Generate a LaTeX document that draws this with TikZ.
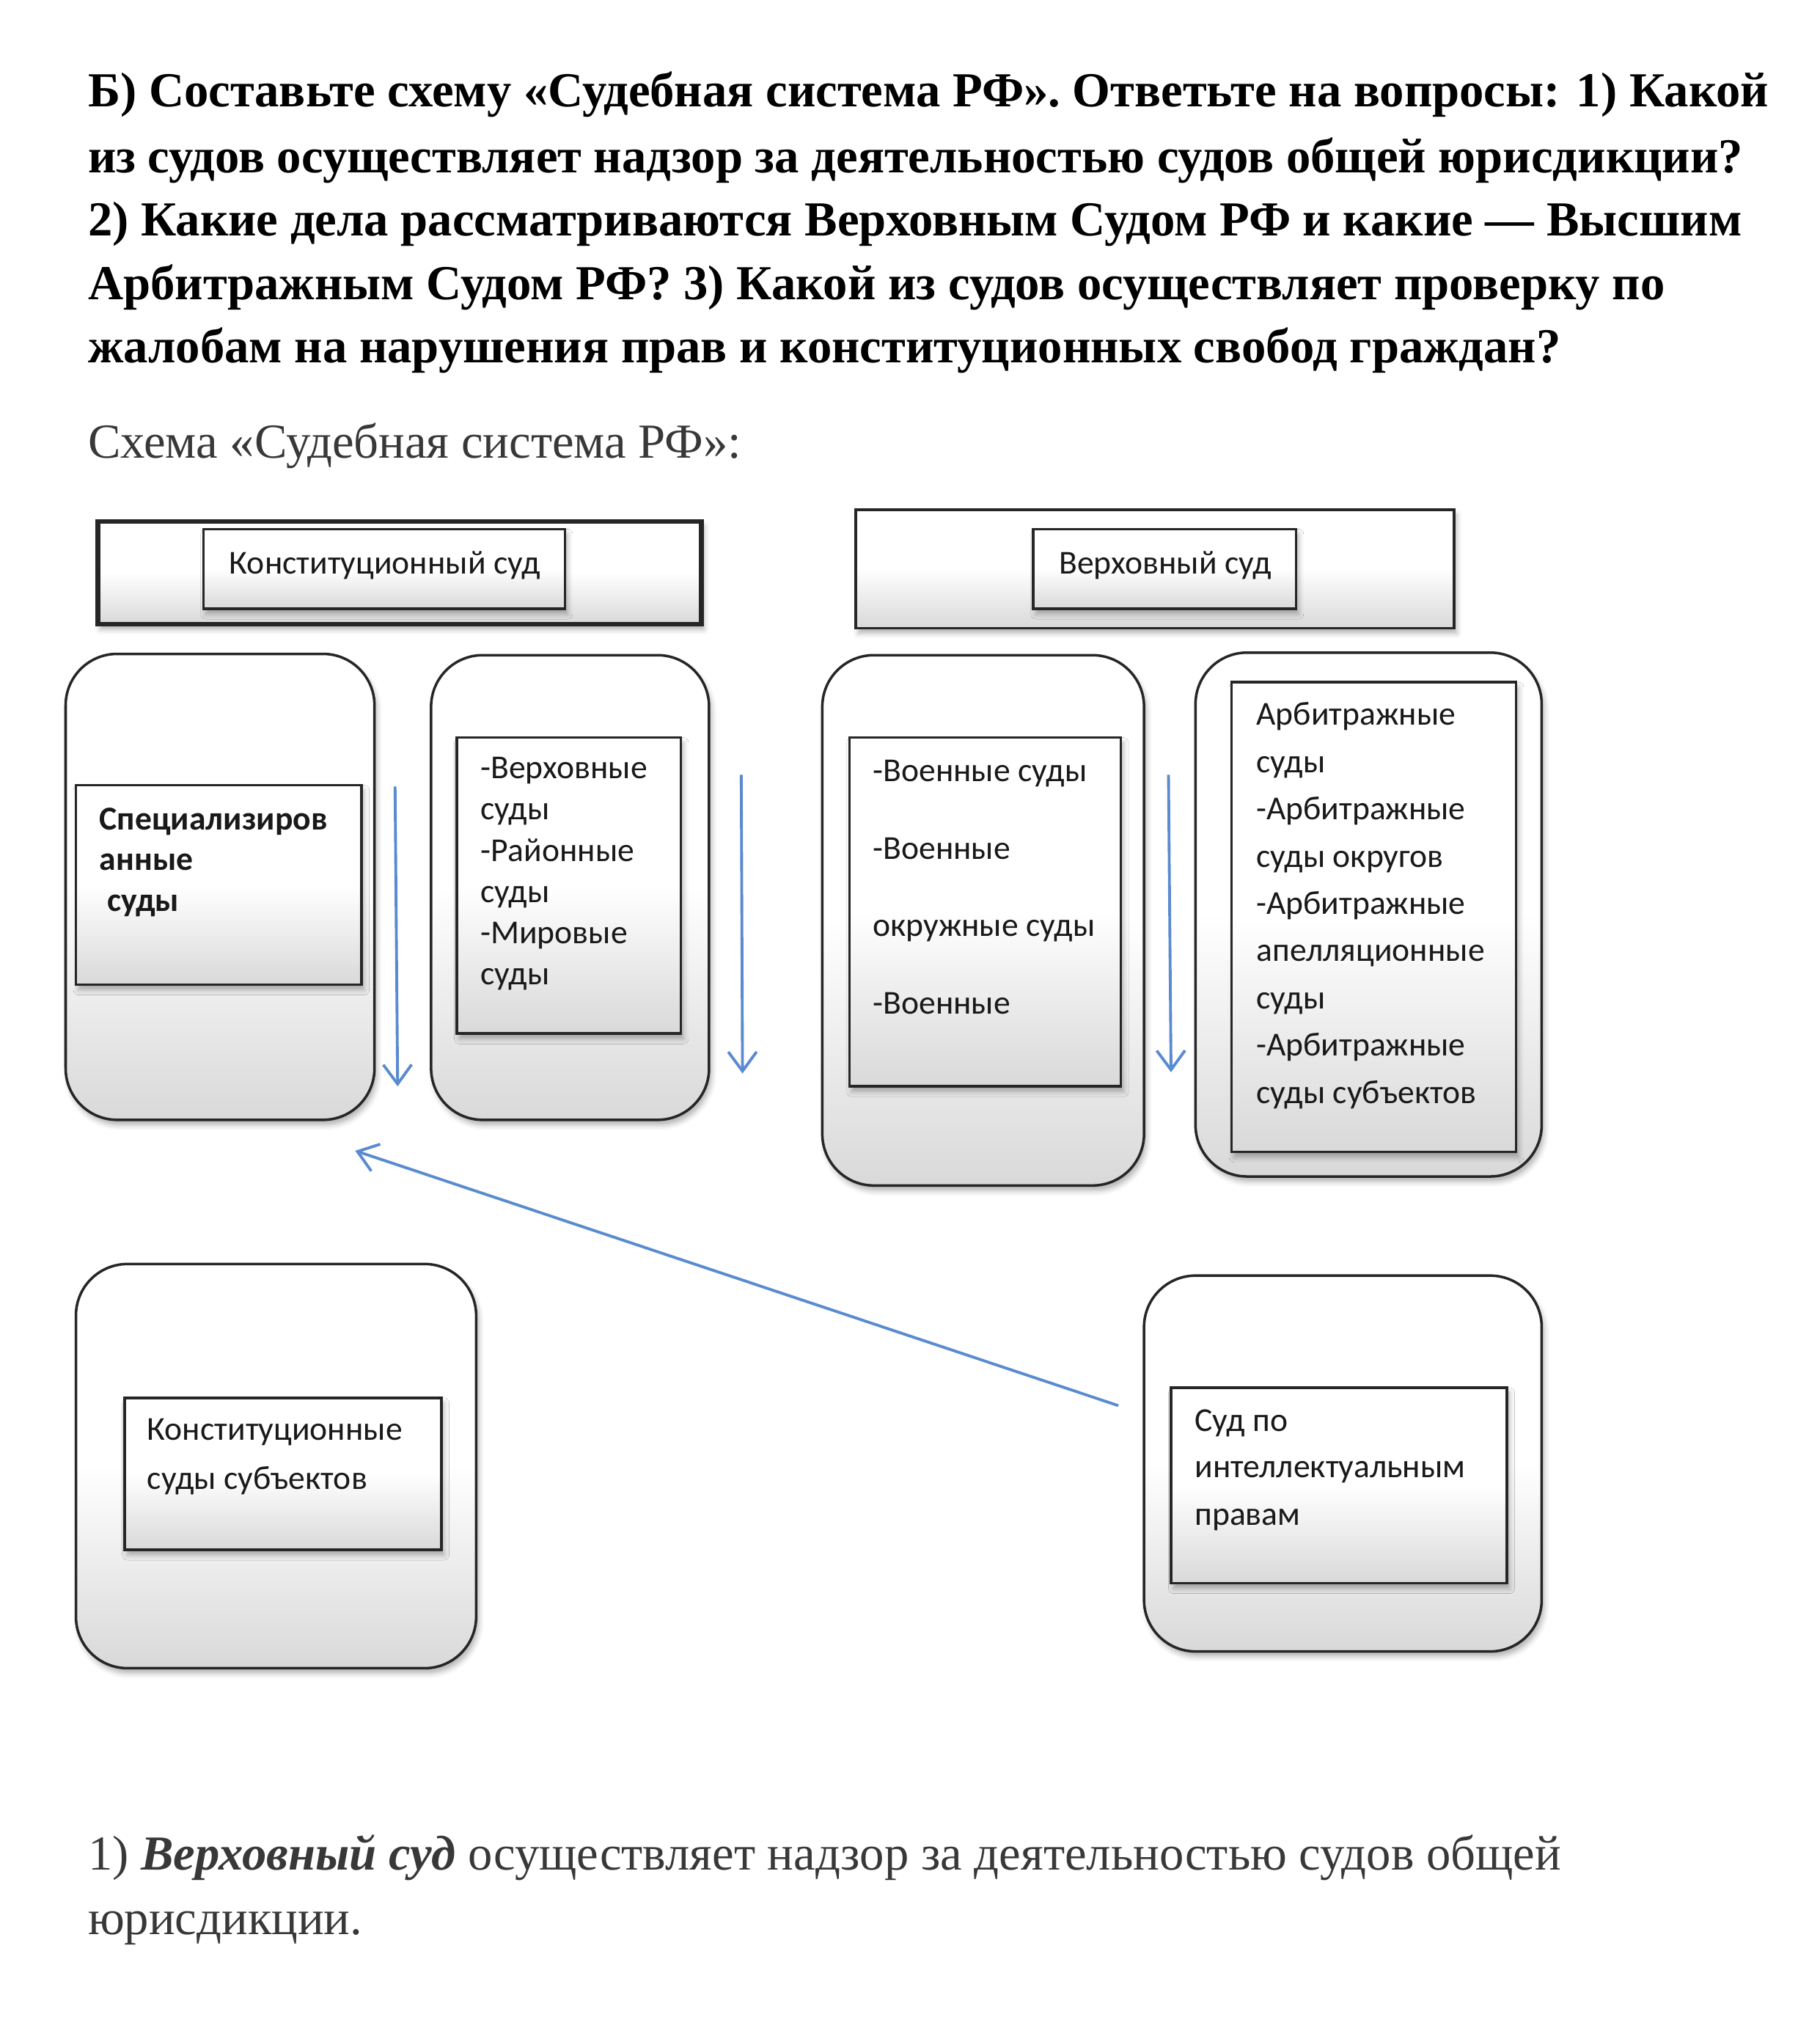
\documentclass[tikz,border=0pt]{standalone}
\usepackage{fontspec}
\setmainfont{Liberation Serif}
\newfontfamily\boxfont{Carlito}
\usetikzlibrary{arrows.meta, shadows.blur}
\definecolor{arrowblue}{HTML}{5A8AD0}

\begin{document}
\begin{tikzpicture}[x=0.5pt,y=0.5pt,yscale=-1,
  courtbox/.style={draw=black!85, line width=1pt, rectangle, inner sep=0pt,
    top color=white, bottom color=black!15, middle color=white,
    blur shadow={shadow xshift=1pt, shadow yshift=-2pt, shadow blur radius=2pt, shadow opacity=30}},
  roundbox/.style={courtbox, rounded corners=20pt},
  boxtext/.style={anchor=base west, inner sep=0pt, font=\boxfont\fontsize{13}{15}\selectfont, text=black!90},
  headline/.style={anchor=base west, inner sep=0pt, font=\bfseries\fontsize{19}{21}\selectfont},
  plainline/.style={anchor=base west, inner sep=0pt, font=\fontsize{19}{21}\selectfont, text=black!78},
  courtarrow/.style={draw=arrowblue, line width=1.1pt, -{Straight Barb[length=7.5pt,width=11pt]}},
]
\useasboundingbox (0,0) rectangle (1414,1567);

% Question
\node[headline] (title-1) at (68,83) {Б) Составьте схему «Судебная система РФ». Ответьте на вопросы: 1) Какой};
\node[headline] (title-2) at (68,134) {из судов осуществляет надзор за деятельностью судов общей юрисдикции?};
\node[headline] (title-3) at (68,183) {2) Какие дела рассматриваются Верховным Судом РФ и какие — Высшим};
\node[headline] (title-4) at (68,233) {Арбитражным Судом РФ? 3) Какой из судов осуществляет проверку по};
\node[headline] (title-5) at (68,282) {жалобам на нарушения прав и конституционных свобод граждан?};
\node[plainline] (scheme) at (68,356) {Схема «Судебная система РФ»:};

% Top: Constitutional court
\node[courtbox, line width=1.8pt, minimum width=234.5pt, minimum height=40pt] (konst-outer) at (310.5,445) {};
\node[courtbox, minimum width=140.5pt, minimum height=31pt] (konst-box) at (298.5,442) {};
\node[boxtext, anchor=base] (konst-text) at (299,446) {Конституционный суд};

% Top: Supreme court
\node[courtbox, minimum width=232.5pt, minimum height=46pt] (verkh-outer) at (897.5,442) {};
\node[courtbox, minimum width=102pt, minimum height=31pt] (verkh-box) at (905,442) {};
\node[boxtext, anchor=base] (verkh-text) at (905.5,446) {Верховный суд};

% Specialised courts
\node[roundbox, minimum width=120pt, minimum height=181pt] (spec-outer) at (171,689) {};
\node[courtbox, minimum width=111pt, minimum height=77.5pt] (spec-box) at (170,687.5) {};
\node[boxtext, font=\boxfont\bfseries\fontsize{13}{15}\selectfont] (spec-1) at (77,645) {Специализиров};
\node[boxtext, font=\boxfont\bfseries\fontsize{13}{15}\selectfont] (spec-2) at (77,676) {анные};
\node[boxtext, font=\boxfont\bfseries\fontsize{13}{15}\selectfont] (spec-3) at (83,708) {суды};

% General jurisdiction
\node[roundbox, minimum width=108pt, minimum height=180.5pt] (gen-outer) at (443,689.5) {};
\node[courtbox, minimum width=87pt, minimum height=115pt] (gen-box) at (442,688) {};
\foreach \txt [count=\i] in {-Верховные, суды, -Районные, суды, -Мировые, суды}
  \node[boxtext] (gen-\i) at (373,{605+32*(\i-1)}) {\txt};

% Military courts
\node[roundbox, minimum width=125pt, minimum height=206pt] (mil-outer) at (764,715) {};
\node[courtbox, minimum width=105.5pt, minimum height=135.5pt] (mil-box) at (765.5,708.5) {};
\foreach \txt [count=\i] in {-Военные суды, -Военные, окружные суды, -Военные}
  \node[boxtext] (mil-\i) at (678,{607+60.3*(\i-1)}) {\txt};

% Arbitration courts
\node[roundbox, minimum width=134.5pt, minimum height=203.5pt] (arb-outer) at (1063.5,710.5) {};
\node[courtbox, minimum width=110.5pt, minimum height=182.5pt] (arb-box) at (1067.5,712.5) {};
\foreach \txt [count=\i] in {Арбитражные, суды, -Арбитражные, суды округов, -Арбитражные, апелляционные, суды, -Арбитражные, суды субъектов}
  \node[boxtext] (arb-\i) at (976,{563.5+36.7*(\i-1)}) {\txt};

% Constitutional courts of subjects
\node[roundbox, minimum width=155.5pt, minimum height=157pt] (subj-outer) at (214.5,1139) {};
\node[courtbox, minimum width=123pt, minimum height=59pt] (subj-box) at (220,1145) {};
\node[boxtext] (subj-1) at (114,1119) {Конституционные};
\node[boxtext] (subj-2) at (114,1157) {суды субъектов};

% Intellectual property court
\node[roundbox, minimum width=154.5pt, minimum height=146pt] (ip-outer) at (1043.5,1137) {};
\node[courtbox, minimum width=130.5pt, minimum height=76pt] (ip-box) at (1040.5,1154) {};
\node[boxtext] (ip-1) at (928,1112) {Суд по};
\node[boxtext] (ip-2) at (928,1148) {интеллектуальным};
\node[boxtext] (ip-3) at (928,1185) {правам};

% Arrows
\coordinate (spec-arrow-top) at (307,611);
\coordinate (spec-arrow-end) at (309,844);
\coordinate (gen-arrow-top) at (576,602);
\coordinate (gen-arrow-end) at (577,834);
\coordinate (mil-arrow-top) at (908,602);
\coordinate (mil-arrow-end) at (910,833);
\coordinate (ip-arrow-start) at (869,1092);
\coordinate (ip-arrow-end) at (276,894);
\draw[courtarrow] (spec-arrow-top) -- (spec-arrow-end);
\draw[courtarrow] (gen-arrow-top) -- (gen-arrow-end);
\draw[courtarrow] (mil-arrow-top) -- (mil-arrow-end);
\draw[courtarrow] (ip-arrow-start) -- (ip-arrow-end);

% Answer
\node[plainline] (answer-1) at (68,1453) {1) \textbf{\textit{Верховный суд}} осуществляет надзор за деятельностью судов общей};
\node[plainline] (answer-2) at (68,1503) {юрисдикции.};

\end{tikzpicture}
\end{document}
